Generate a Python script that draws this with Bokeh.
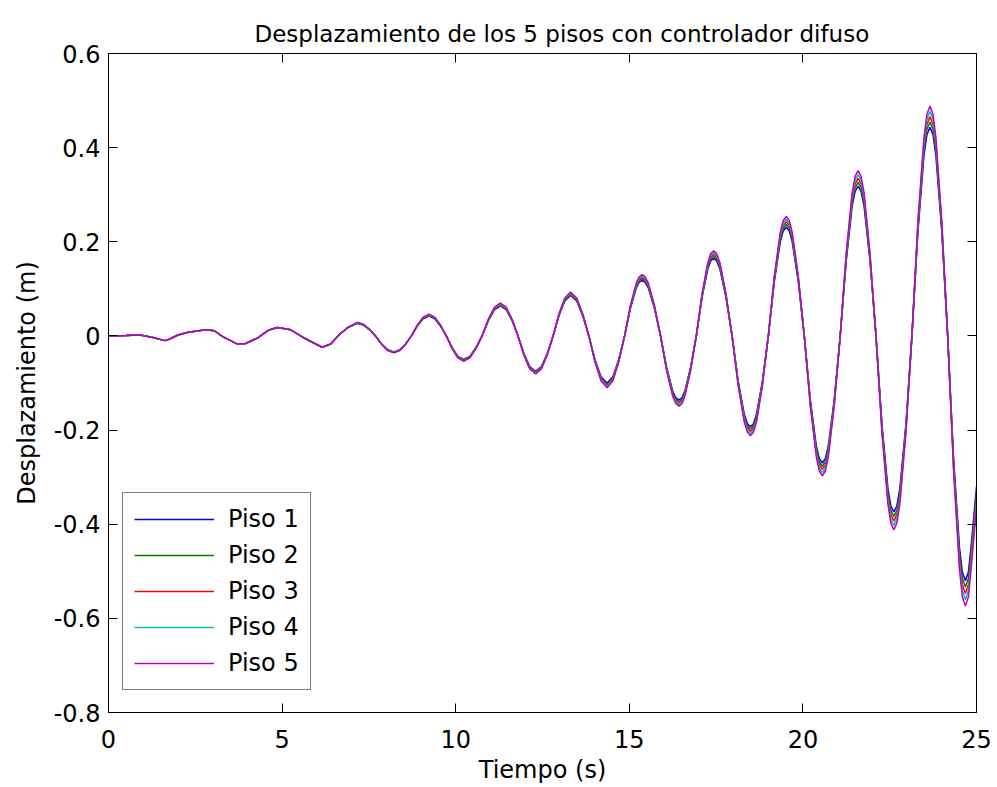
from bokeh.plotting import figure
from bokeh.models import LinearAxis, FixedTicker, Range1d
from bokeh.embed import file_html
from bokeh.resources import INLINE

# ---- data ----
tiempo = [0, 0.5, 0.9, 1.25, 1.62, 1.75, 2.0, 2.3, 2.8, 3.05, 3.3, 3.7, 3.95, 4.3, 4.6, 4.86, 5.25, 5.65, 6.15, 6.4, 6.65, 6.9,
          7.16, 7.337, 7.513, 7.69, 7.867, 8.043,
          8.22, 8.388, 8.557, 8.725, 8.893, 9.062,
          9.23, 9.397, 9.563, 9.73, 9.897, 10.063,
          10.23, 10.407, 10.583, 10.76, 10.937, 11.113,
          11.29, 11.458, 11.627, 11.795, 11.963, 12.132,
          12.30, 12.468, 12.637, 12.805, 12.973, 13.142,
          13.31, 13.485, 13.66, 13.835, 14.01, 14.185,
          14.36, 14.528, 14.697, 14.865, 15.033, 15.202,
          15.284, 15.37, 15.456, 15.547, 15.723, 15.9, 16.077, 16.253,
          16.344, 16.43, 16.516, 16.597, 16.763, 16.93, 17.097, 17.263,
          17.344, 17.43, 17.516, 17.607, 17.783, 17.96, 18.137, 18.313,
          18.404, 18.49, 18.576, 18.662, 18.833, 19.005, 19.177, 19.348,
          19.434, 19.52, 19.606, 19.693, 19.867, 20.04, 20.213, 20.387,
          20.474, 20.56, 20.646, 20.732, 20.903, 21.075, 21.247, 21.418,
          21.504, 21.59, 21.676, 21.762, 21.933, 22.105, 22.277, 22.448,
          22.534, 22.62, 22.706, 22.793, 22.967, 23.14, 23.313, 23.487,
          23.574, 23.66, 23.746, 23.83, 24.0, 24.17, 24.34, 24.51,
          24.594, 24.68, 24.766, 24.84, 25.0]

piso1 = [0, 0.001, 0.002, -0.003, -0.010, -0.007, 0.002, 0.008, 0.013, 0.011, -0.002, -0.017, -0.016, -0.004, 0.012, 0.018, 0.013, -0.005, -0.024, -0.017, 0.003, 0.018,
         0.027, 0.0234, 0.0135, 0, -0.017, -0.0294,
         -0.034, -0.0294, -0.017, 0, 0.021, 0.0364,
         0.042, 0.0364, 0.021, 0, -0.025, -0.0433,
         -0.050, -0.0433, -0.025, 0, 0.032, 0.0554,
         0.064, 0.0554, 0.032, 0, -0.0375, -0.065,
         -0.075, -0.065, -0.0375, 0, 0.043, 0.0745,
         0.086, 0.0745, 0.043, 0, -0.05, -0.0866,
         -0.100, -0.0866, -0.05, 0, 0.059, 0.1022,
         0.114, 0.118, 0.114, 0.1022, 0.059, 0, -0.068, -0.1178,
         -0.1314, -0.136, -0.1314, -0.1178, -0.068, 0, 0.0825, 0.1429,
         0.1594, 0.165, 0.1594, 0.1429, 0.0825, 0, -0.0965, -0.1671,
         -0.1864, -0.193, -0.1864, -0.1671, -0.0965, 0, 0.1155, 0.2,
         0.2231, 0.231, 0.2231, 0.2, 0.1155, 0, -0.135, -0.2338,
         -0.2608, -0.270, -0.2608, -0.2338, -0.135, 0, 0.159, 0.2754,
         0.3072, 0.318, 0.3072, 0.2754, 0.159, 0, -0.187, -0.3239,
         -0.3613, -0.374, -0.3613, -0.3239, -0.187, 0, 0.2215, 0.3836,
         0.4279, 0.443, 0.4279, 0.3836, 0.2215, 0, -0.26, -0.4503,
         -0.5023, -0.520, -0.5023, -0.45, -0.32]

piso2 = [0, 0.001, 0.002, -0.003, -0.010, -0.007, 0.002, 0.008, 0.013, 0.011, -0.002, -0.017, -0.016, -0.004, 0.012, 0.018, 0.013, -0.005, -0.024, -0.017, 0.003, 0.018,
         0.027, 0.0234, 0.0135, 0, -0.0173, -0.0299,
         -0.0345, -0.0299, -0.0173, 0, 0.0215, 0.0372,
         0.043, 0.0372, 0.0215, 0, -0.0255, -0.0442,
         -0.051, -0.0442, -0.0255, 0, 0.0328, 0.0567,
         0.0655, 0.0567, 0.0328, 0, -0.0383, -0.0662,
         -0.0765, -0.0662, -0.0383, 0, 0.0439, 0.076,
         0.0878, 0.076, 0.0439, 0, -0.0513, -0.0888,
         -0.1025, -0.0888, -0.0513, 0, 0.0605, 0.1048,
         0.1169, 0.121, 0.1169, 0.1048, 0.0605, 0, -0.0697, -0.1206,
         -0.1346, -0.1393, -0.1346, -0.1206, -0.0697, 0, 0.0845, 0.1464,
         0.1633, 0.169, 0.1633, 0.1464, 0.0845, 0, -0.0989, -0.1713,
         -0.1911, -0.1978, -0.1911, -0.1713, -0.0989, 0, 0.1184, 0.2051,
         0.2287, 0.2368, 0.2287, 0.2051, 0.1184, 0, -0.1384, -0.2397,
         -0.2674, -0.2768, -0.2674, -0.2397, -0.1384, 0, 0.1632, 0.2826,
         0.3152, 0.3263, 0.3152, 0.2826, 0.1632, 0, -0.1918, -0.3321,
         -0.3705, -0.3835, -0.3705, -0.3321, -0.1918, 0, 0.2272, 0.3934,
         0.4389, 0.4543, 0.4389, 0.3934, 0.2272, 0, -0.2668, -0.462,
         -0.5154, -0.5335, -0.5154, -0.462, -0.331]

piso3 = [0, 0.001, 0.002, -0.003, -0.010, -0.007, 0.002, 0.008, 0.013, 0.011, -0.002, -0.017, -0.016, -0.004, 0.012, 0.018, 0.013, -0.005, -0.024, -0.017, 0.003, 0.018,
         0.028, 0.0242, 0.014, 0, -0.0175, -0.0303,
         -0.035, -0.0303, -0.0175, 0, 0.022, 0.0381,
         0.044, 0.0381, 0.022, 0, -0.026, -0.045,
         -0.052, -0.045, -0.026, 0, 0.0335, 0.058,
         0.067, 0.058, 0.0335, 0, -0.039, -0.0675,
         -0.078, -0.0675, -0.039, 0, 0.0448, 0.0775,
         0.0895, 0.0775, 0.0448, 0, -0.0525, -0.0909,
         -0.105, -0.0909, -0.0525, 0, 0.062, 0.1074,
         0.1198, 0.124, 0.1198, 0.1074, 0.062, 0, -0.0713, -0.1234,
         -0.1377, -0.1425, -0.1377, -0.1234, -0.0713, 0, 0.0865, 0.1498,
         0.1671, 0.173, 0.1671, 0.1498, 0.0865, 0, -0.1013, -0.1754,
         -0.1956, -0.2025, -0.1956, -0.1754, -0.1013, 0, 0.1213, 0.21,
         0.2343, 0.2425, 0.2343, 0.21, 0.1213, 0, -0.1418, -0.2455,
         -0.2739, -0.2835, -0.2739, -0.2455, -0.1418, 0, 0.1673, 0.2897,
         0.3231, 0.3345, 0.3231, 0.2897, 0.1673, 0, -0.1965, -0.3403,
         -0.3796, -0.393, -0.3796, -0.3403, -0.1965, 0, 0.2328, 0.4031,
         0.4497, 0.4655, 0.4497, 0.4031, 0.2328, 0, -0.2735, -0.4737,
         -0.5284, -0.547, -0.5284, -0.475, -0.343]

piso4 = [0, 0.001, 0.002, -0.003, -0.010, -0.007, 0.002, 0.008, 0.013, 0.011, -0.002, -0.017, -0.016, -0.004, 0.012, 0.018, 0.013, -0.005, -0.024, -0.017, 0.003, 0.018,
         0.028, 0.0242, 0.014, 0, -0.0178, -0.0307,
         -0.0355, -0.0307, -0.0178, 0, 0.0225, 0.039,
         0.045, 0.039, 0.0225, 0, -0.0265, -0.0459,
         -0.053, -0.0459, -0.0265, 0, 0.0343, 0.0593,
         0.0685, 0.0593, 0.0343, 0, -0.0398, -0.0688,
         -0.0795, -0.0688, -0.0398, 0, 0.0457, 0.0791,
         0.0913, 0.0791, 0.0457, 0, -0.0538, -0.0931,
         -0.1075, -0.0931, -0.0538, 0, 0.0635, 0.11,
         0.1227, 0.127, 0.1227, 0.11, 0.0635, 0, -0.0729, -0.1263,
         -0.1408, -0.1458, -0.1408, -0.1263, -0.0729, 0, 0.0885, 0.1533,
         0.171, 0.177, 0.171, 0.1533, 0.0885, 0, -0.1037, -0.1795,
         -0.2003, -0.2073, -0.2003, -0.1795, -0.1037, 0, 0.1242, 0.215,
         0.2399, 0.2483, 0.2399, 0.215, 0.1242, 0, -0.1452, -0.2514,
         -0.2804, -0.2903, -0.2804, -0.2514, -0.1452, 0, 0.1714, 0.2969,
         0.3311, 0.3428, 0.3311, 0.2969, 0.1714, 0, -0.2013, -0.3486,
         -0.3888, -0.4025, -0.3888, -0.3486, -0.2013, 0, 0.2384, 0.4129,
         0.4606, 0.4768, 0.4606, 0.4129, 0.2384, 0, -0.2803, -0.4854,
         -0.5414, -0.5605, -0.5414, -0.487, -0.354]

piso5 = [0, 0.001, 0.002, -0.003, -0.010, -0.007, 0.002, 0.008, 0.013, 0.011, -0.002, -0.017, -0.016, -0.004, 0.012, 0.018, 0.013, -0.005, -0.024, -0.017, 0.003, 0.018,
         0.029, 0.0251, 0.0145, 0, -0.018, -0.0312,
         -0.036, -0.0312, -0.018, 0, 0.023, 0.0398,
         0.046, 0.0398, 0.023, 0, -0.027, -0.0468,
         -0.054, -0.0468, -0.027, 0, 0.035, 0.0606,
         0.070, 0.0606, 0.035, 0, -0.0405, -0.0701,
         -0.081, -0.0701, -0.0405, 0, 0.0465, 0.0805,
         0.093, 0.0805, 0.0465, 0, -0.055, -0.0953,
         -0.110, -0.0953, -0.055, 0, 0.065, 0.1126,
         0.1256, 0.130, 0.1256, 0.1126, 0.065, 0, -0.0745, -0.129,
         -0.1439, -0.149, -0.1439, -0.129, -0.0745, 0, 0.0905, 0.1567,
         0.1748, 0.181, 0.1748, 0.1567, 0.0905, 0, -0.106, -0.1836,
         -0.2048, -0.212, -0.2048, -0.1836, -0.106, 0, 0.127, 0.22,
         0.2454, 0.254, 0.2454, 0.22, 0.127, 0, -0.1485, -0.2572,
         -0.2869, -0.297, -0.2869, -0.2572, -0.1485, 0, 0.1755, 0.304,
         0.3391, 0.351, 0.3391, 0.304, 0.1755, 0, -0.206, -0.3568,
         -0.398, -0.412, -0.398, -0.3568, -0.206, 0, 0.244, 0.4226,
         0.4714, 0.488, 0.4714, 0.4226, 0.244, 0, -0.287, -0.4971,
         -0.5545, -0.574, -0.5545, -0.50, -0.365]

series_names = ["Piso 1", "Piso 2", "Piso 3", "Piso 4", "Piso 5"]
series_colors = ["#0000FF", "#008000", "#FF0000", "#00BFBF", "#BF00BF"]

x_ticks = [0, 5, 10, 15, 20, 25]
y_ticks = [-0.8, -0.6, -0.4, -0.2, 0, 0.2, 0.4, 0.6]
y_tick_labels = ["-0.8", "-0.6", "-0.4", "-0.2", "0", "0.2", "0.4", "0.6"]

FONT = "DejaVu Sans"
FS = "24px"

p = figure(width=997, height=787, output_backend="svg", toolbar_location=None,
           x_range=Range1d(0, 25), y_range=Range1d(-0.8, 0.6),
           min_border_left=108, min_border_right=21, min_border_top=53, min_border_bottom=75,
           title="Desplazamiento de los 5 pisos con controlador difuso")

p.background_fill_color = "white"
p.border_fill_color = "white"
p.outline_line_color = "black"
p.grid.visible = False

p.title.align = "left"
p.title.offset = 146
p.title.text_font = FONT
p.title.text_font_size = "23px"
p.title.text_font_style = "normal"
p.title.text_color = "black"
p.title.standoff = 13

for vals, name, col in zip([piso1, piso2, piso3, piso4, piso5], series_names, series_colors):
    p.line(tiempo, vals, line_color=col, line_width=1.5, legend_label=name)

def style_axis(ax, labels=True):
    ax.axis_line_color = "black"
    ax.axis_line_width = 1
    ax.major_tick_line_color = "black"
    ax.major_tick_in = 9
    ax.major_tick_out = 0
    ax.minor_tick_in = 0
    ax.minor_tick_out = 0
    if labels:
        ax.major_label_text_font = FONT
        ax.major_label_text_font_size = FS
        ax.major_label_text_color = "black"
        ax.axis_label_text_font = FONT
        ax.axis_label_text_font_size = FS
        ax.axis_label_text_font_style = "normal"
        ax.axis_label_text_color = "black"
    else:
        ax.major_label_text_font_size = "0px"
        ax.major_label_standoff = 0

xa = p.xaxis[0]
xa.ticker = FixedTicker(ticks=x_ticks)
xa.axis_label = "Tiempo (s)"
style_axis(xa)
xa.major_label_standoff = 17
xa.axis_label_standoff = 5

ya = p.yaxis[0]
ya.ticker = FixedTicker(ticks=y_ticks)
ya.major_label_overrides = {v: s for v, s in zip(y_ticks, y_tick_labels)}
ya.axis_label = "Desplazamiento (m)"
style_axis(ya)
ya.major_label_standoff = 8
ya.axis_label_standoff = 10

top = LinearAxis(ticker=FixedTicker(ticks=x_ticks))
style_axis(top, labels=False)
p.add_layout(top, "above")
right = LinearAxis(ticker=FixedTicker(ticks=y_ticks))
style_axis(right, labels=False)
p.add_layout(right, "right")

lg = p.legend[0]
lg.location = (14, 22)
lg.border_line_color = "black"
lg.border_line_width = 1
lg.background_fill_color = "white"
lg.background_fill_alpha = 1
lg.label_text_font = FONT
lg.label_text_font_size = FS
lg.label_text_color = "black"
lg.glyph_width = 80
lg.glyph_height = 30
lg.label_height = 30
lg.spacing = 6
lg.padding = 11
lg.label_standoff = 14
lg.margin = 0

open("out.html", "w").write(file_html(p, INLINE))
